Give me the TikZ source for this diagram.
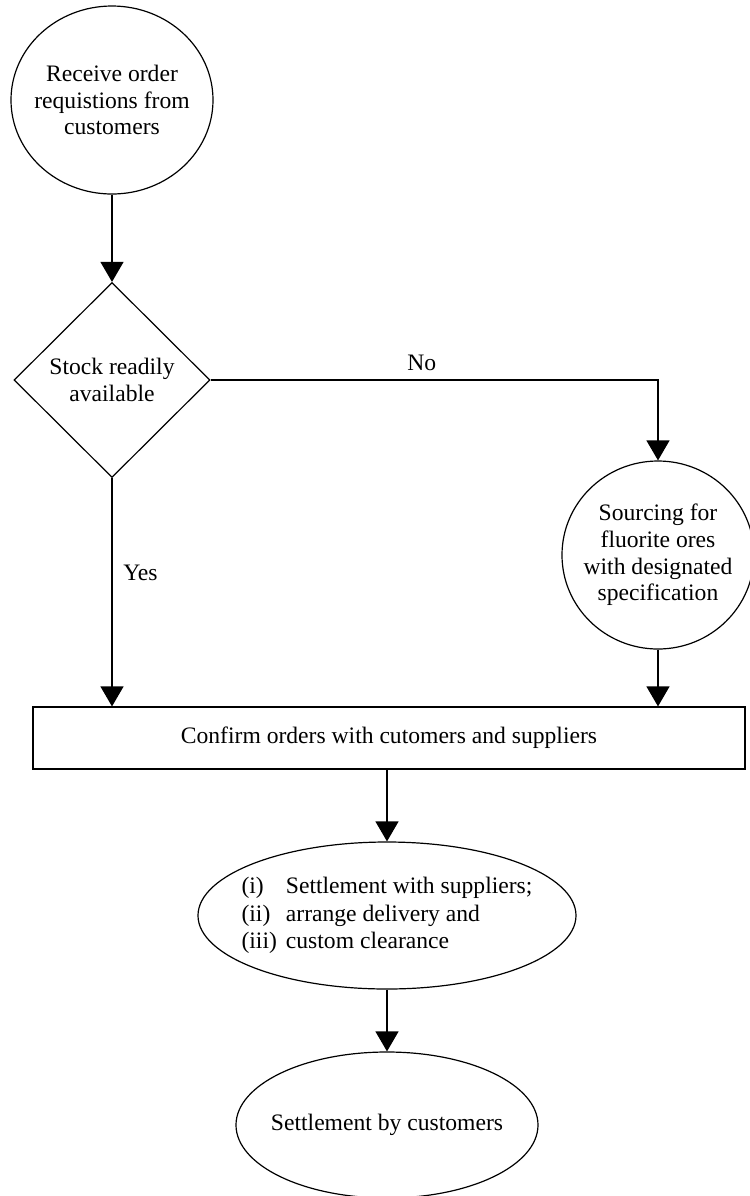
\documentclass[tikz,border=0pt]{standalone}
\usepackage{fontspec}
\setmainfont{Liberation Serif}
\usetikzlibrary{shapes.geometric,arrows.meta}
\def\fs{\fontsize{11.8}{13.3}\selectfont}
\def\lw{0.6pt}
\tikzset{
  arr/.style={draw=black,line width=\lw,-{Triangle[width=11.5pt,length=10pt]}},
  roundbox/.style={ellipse,draw,line width=\lw,inner sep=-12pt,align=center,font=\fs},
  choice/.style={diamond,draw,line width=\lw,inner sep=0pt,aspect=1,align=center,font=\fs},
  plainbox/.style={rectangle,draw,line width=\lw,inner sep=0pt,font=\fs},
  lbl/.style={font=\fs}
}

\begin{document}
\begin{tikzpicture}[x=0.5pt,y=-0.5pt]
\useasboundingbox (0,0) rectangle (750,1196);

% --- process steps --------------------------------------------------
\node[roundbox,minimum width=101pt,minimum height=94pt] (recv) at (112,100)
  {Receive order\\requistions from\\customers};
\node[choice,minimum width=98pt,minimum height=97.5pt] (stock) at (112,380)
  {Stock readily\\available};
\node[roundbox,minimum width=96pt,minimum height=94pt] (src) at (658,555)
  {Sourcing for\\fluorite ores\\with designated\\specification};
\node[plainbox,minimum width=356pt,minimum height=31pt] (confirm) at (389,738)
  {Confirm orders with cutomers and suppliers};
\node[roundbox,minimum width=189pt,minimum height=73.5pt] (settle) at (387,915.5)
  {\fontsize{11.8}{13.75}\selectfont
   \begin{tabular}{@{}l@{\hspace{4.5pt}}l@{}}
   (i)&Settlement with suppliers;\\
   (ii)&arrange delivery and\\
   (iii)&custom clearance
   \end{tabular}};
\node[roundbox,minimum width=151pt,minimum height=73pt] (paid) at (387,1125)
  {Settlement by customers};

% --- connectors -----------------------------------------------------
\draw[arr] (recv.south) -- (stock.north);
\draw[arr] (stock.east) -| node[lbl,pos=0.236,above=1pt] (no) {No} (src.north);
\draw[arr] (stock.south) -- node[lbl,pos=0.417,right=2pt] (yes) {Yes}
  (stock.south |- confirm.north);
\draw[arr] (src.south) -- (src.south |- confirm.north);
\draw[arr] (settle.north |- confirm.south) -- (settle.north);
\draw[arr] (settle.south) -- (paid.north);

\end{tikzpicture}
\end{document}
